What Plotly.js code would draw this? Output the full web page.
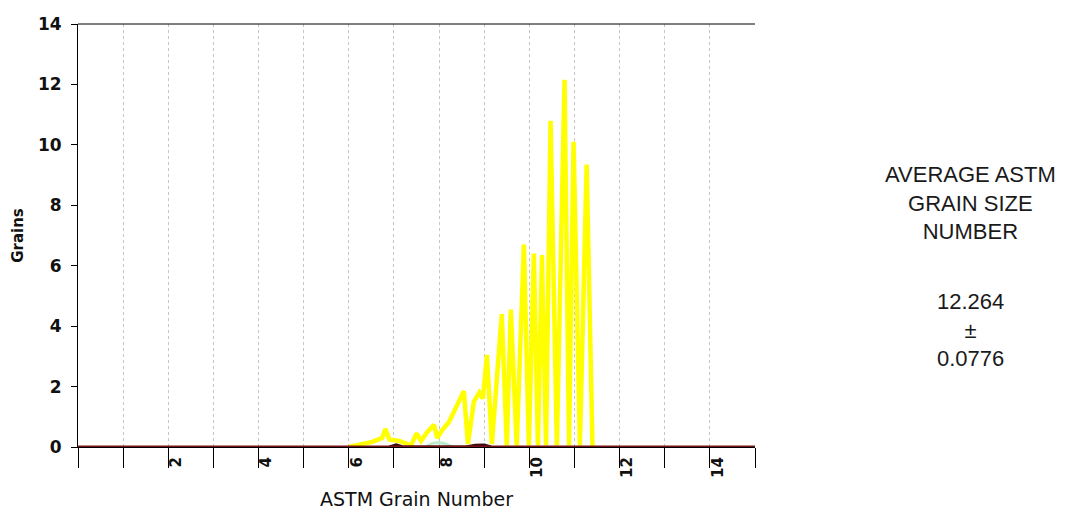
<!DOCTYPE html>
<html>
<head>
<meta charset="utf-8">
<script src="https://cdn.plot.ly/plotly-3.0.1.min.js"></script>
<style>html,body{margin:0;padding:0;background:#fff;}#chart{width:1074px;height:510px;}</style>
</head>
<body>
<div id="chart"></div>
<script>
// ASTM grain number (x) and grain counts (y)
var yellowX = [6.00, 6.30, 6.52, 6.74, 6.81, 6.90, 7.12, 7.30, 7.38, 7.50, 7.60, 7.74, 7.89, 7.96, 8.07, 8.22, 8.40, 8.55, 8.64, 8.77, 8.89, 8.97, 9.06, 9.17, 9.39, 9.50, 9.59, 9.72, 9.88, 9.99, 10.10, 10.19, 10.28, 10.37, 10.47, 10.61, 10.78, 10.88, 10.98, 11.12, 11.27, 11.40];
var yellowY = [0, 0.10, 0.17, 0.30, 0.60, 0.25, 0.20, 0.10, 0.05, 0.45, 0.20, 0.50, 0.73, 0.30, 0.56, 0.83, 1.40, 1.85, 0.10, 1.50, 1.80, 1.60, 3.05, 0.10, 4.40, 0.05, 4.55, 0.05, 6.70, 0.05, 6.40, 0.05, 6.35, 0.05, 10.80, 0.05, 12.15, 0.05, 10.10, 0.05, 9.35, 0];
var greenX = [7.70, 7.85, 8.00, 8.15, 8.30];
var greenY = [0, 0.12, 0.15, 0.10, 0];
var darkX = [6.90, 7.05, 7.20, 8.60, 8.80, 9.00, 9.15];
var darkY = [0, 0.07, 0, 0, 0.06, 0.07, 0];
var baseX = [0, 15];
var baseY = [0, 0];
var xTickVals = [0, 1, 2, 3, 4, 5, 6, 7, 8, 9, 10, 11, 12, 13, 14, 15];
var xTickText = ["", "", "2", "", "4", "", "6", "", "8", "", "10", "", "12", "", "14", ""];
var yTickVals = [0, 2, 4, 6, 8, 10, 12, 14];
var sideTitle = "AVERAGE ASTM<br>GRAIN SIZE<br>NUMBER";
var sideValue = "12.264<br>±<br>0.0776";

var traces = [
  {x: yellowX, y: yellowY, type: 'scatter', mode: 'lines', line: {color: '#ffff00', width: 4.5}},
  {x: greenX, y: greenY, type: 'scatter', mode: 'lines', line: {color: '#b8eecb', width: 3}},
  {x: darkX, y: darkY, type: 'scatter', mode: 'lines', line: {color: '#3a0a0a', width: 3}},
  {x: baseX, y: baseY, type: 'scatter', mode: 'lines', line: {color: '#7a1414', width: 3}}
];

var layout = {
  width: 1074, height: 510,
  margin: {l: 78, r: 319, t: 24, b: 63},
  paper_bgcolor: '#ffffff', plot_bgcolor: '#ffffff',
  showlegend: false,
  font: {family: 'Liberation Sans, Arial, sans-serif', color: '#111'},
  xaxis: {
    range: [0, 15], fixedrange: true,
    tickmode: 'array', tickvals: xTickVals, ticktext: xTickText,
    ticks: 'outside', ticklen: 20, tickwidth: 1, tickcolor: '#000',
    tickangle: -90, ticklabelstandoff: -17, ticklabelshift: 8,
    tickfont: {family: 'DejaVu Sans, sans-serif', size: 15, weight: 'bold', color: '#111'},
    showgrid: true, gridcolor: '#c4c4c4', gridwidth: 1, griddash: '3px,3px',
    zeroline: false, showline: true, linecolor: '#000', linewidth: 1,
    title: {text: 'ASTM Grain Number', font: {family: 'DejaVu Sans, sans-serif', size: 19, color: '#111'}, standoff: 21}
  },
  yaxis: {
    range: [0, 14], fixedrange: true,
    tickmode: 'array', tickvals: yTickVals,
    ticks: 'outside', ticklen: 6, tickwidth: 1, tickcolor: '#000',
    ticklabelstandoff: 6,
    tickfont: {family: 'DejaVu Sans, sans-serif', size: 17, weight: 'bold', color: '#111'},
    showgrid: false, zeroline: false, showline: true, linecolor: '#000', linewidth: 1,
    title: {text: 'Grains', font: {family: 'DejaVu Sans, sans-serif', size: 15, weight: 'bold', color: '#111'}, standoff: 10}
  },
  shapes: [
    {type: 'line', xref: 'paper', yref: 'paper', x0: 0, x1: 1, y0: 1, y1: 1, line: {color: '#000', width: 1}}
  ],
  annotations: [
    {xref: 'paper', yref: 'paper', x: 1.3176, y: 0.578, xanchor: 'center', yanchor: 'middle', showarrow: false,
     text: sideTitle, align: 'center', font: {family: 'Liberation Sans, Arial, sans-serif', size: 22, color: '#1a1a1a'}},
    {xref: 'paper', yref: 'paper', x: 1.3176, y: 0.2766, xanchor: 'center', yanchor: 'middle', showarrow: false,
     text: sideValue, align: 'center', font: {family: 'Liberation Sans, Arial, sans-serif', size: 22, color: '#1a1a1a'}}
  ]
};

Plotly.newPlot('chart', traces, layout, {displayModeBar: false, staticPlot: true});
</script>
</body>
</html>
